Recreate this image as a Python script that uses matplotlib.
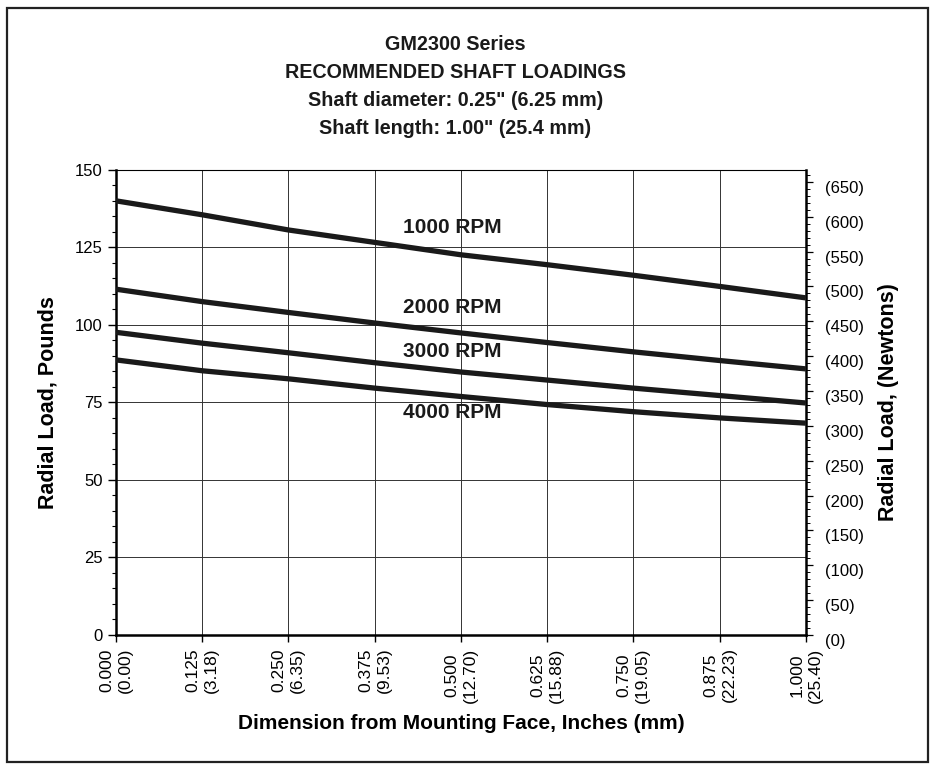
import matplotlib
matplotlib.use('Agg')
import matplotlib.pyplot as plt
import matplotlib.patches as patches
from matplotlib.ticker import MultipleLocator
import matplotlib.transforms as mtransforms
import numpy as np

plt.rcParams['font.family'] = ['Liberation Sans', 'DejaVu Sans']

# data (pounds)
dist_in = [0.0, 0.125, 0.25, 0.375, 0.5, 0.625, 0.75, 0.875, 1.0]
dist_mm = ['0.00', '3.18', '6.35', '9.53', '12.70', '15.88', '19.05', '22.23', '25.40']
load_1000 = [140.0, 135.5, 130.6, 126.6, 122.6, 119.4, 116.0, 112.4, 108.7]
load_2000 = [111.5, 107.5, 104.0, 100.6, 97.4, 94.3, 91.3, 88.5, 85.8]
load_3000 = [97.6, 94.1, 91.0, 87.8, 84.8, 82.2, 79.6, 77.2, 74.8]
load_4000 = [88.7, 85.2, 82.6, 79.6, 76.9, 74.3, 72.0, 70.0, 68.3]
rpm_labels = ['1000 RPM', '2000 RPM', '3000 RPM', '4000 RPM']
label_y = [131.3, 105.5, 91.3, 71.6]
newton_ticks = list(range(0, 700, 50))

fig = plt.figure(figsize=(9.31, 7.65), dpi=100)
ax = fig.add_axes([0.1246, 0.170, 0.7411, 0.608])

for ys in (load_1000, load_2000, load_3000, load_4000):
    ax.plot(dist_in, ys, color='#1a1a1a', lw=3.8, solid_capstyle='butt', zorder=3)

for lab, yy in zip(rpm_labels, label_y):
    ax.text(0.416, yy, lab, fontsize=15, fontweight='bold', va='center', ha='left',
            color='#1a1a1a', zorder=4)

ax.set_xlim(0, 1.0)
ax.set_ylim(0, 150)
ax.set_xticks(dist_in)
ax.set_xticklabels(['%.3f\n(%s)' % (a, b) for a, b in zip(dist_in, dist_mm)],
                   rotation=90, fontsize=12.5, va='top', ha='center',
                   multialignment='center', linespacing=1.3)
ax.yaxis.set_major_locator(MultipleLocator(25))
ax.yaxis.set_minor_locator(MultipleLocator(5))
ax.tick_params(axis='y', which='major', length=6, width=1, labelsize=12, direction='out')
ax.tick_params(axis='y', which='minor', length=3, width=0.8, direction='out')
ax.tick_params(axis='x', which='major', length=5, width=1, pad=4)
ax.grid(True, which='major', color='#333333', lw=0.7)
for s in ('left', 'bottom', 'right'):
    ax.spines[s].set_linewidth(1.8)
ax.spines['top'].set_linewidth(0.8)

ax.set_ylabel('Radial Load, Pounds', fontsize=15.5, fontweight='bold', labelpad=12)
ax.set_xlabel('Dimension from Mounting Face, Inches (mm)', fontsize=15, fontweight='bold',
              labelpad=8)

# right axis in newtons
ax2 = ax.twinx()
ax2.set_ylim(0, 150 * 4.448)
ax2.set_yticks(newton_ticks)
ax2.set_yticklabels(['(%d)' % n for n in newton_ticks], fontsize=12)
ax2.yaxis.set_minor_locator(MultipleLocator(10))
ax2.tick_params(axis='y', which='major', length=5, width=0.9, pad=9)
ax2.tick_params(axis='y', which='minor', length=3, width=0.7)
off = mtransforms.ScaledTranslation(0, -5 / 100, fig.dpi_scale_trans)
for t in ax2.get_yticklabels():
    t.set_transform(t.get_transform() + off)
ax2.set_ylabel('Radial Load, (Newtons)', fontsize=15.5, fontweight='bold', labelpad=10)
for s in ax2.spines.values():
    s.set_visible(False)

# titles
titles = ['GM2300 Series', 'RECOMMENDED SHAFT LOADINGS',
          'Shaft diameter: 0.25" (6.25 mm)', 'Shaft length: 1.00" (25.4 mm)']
for i, t in enumerate(titles):
    fig.text(0.489, 1 - (45 + 28 * i) / 765, t, fontsize=14.2, fontweight='bold',
             ha='center', va='center', color='#1a1a1a')

# frame around everything
fig.patches.append(patches.Rectangle((0.007, 0.004), 0.99, 0.985, transform=fig.transFigure,
                                     fill=False, lw=1.6, edgecolor='#222222'))

fig.savefig('out.png', dpi=100)
